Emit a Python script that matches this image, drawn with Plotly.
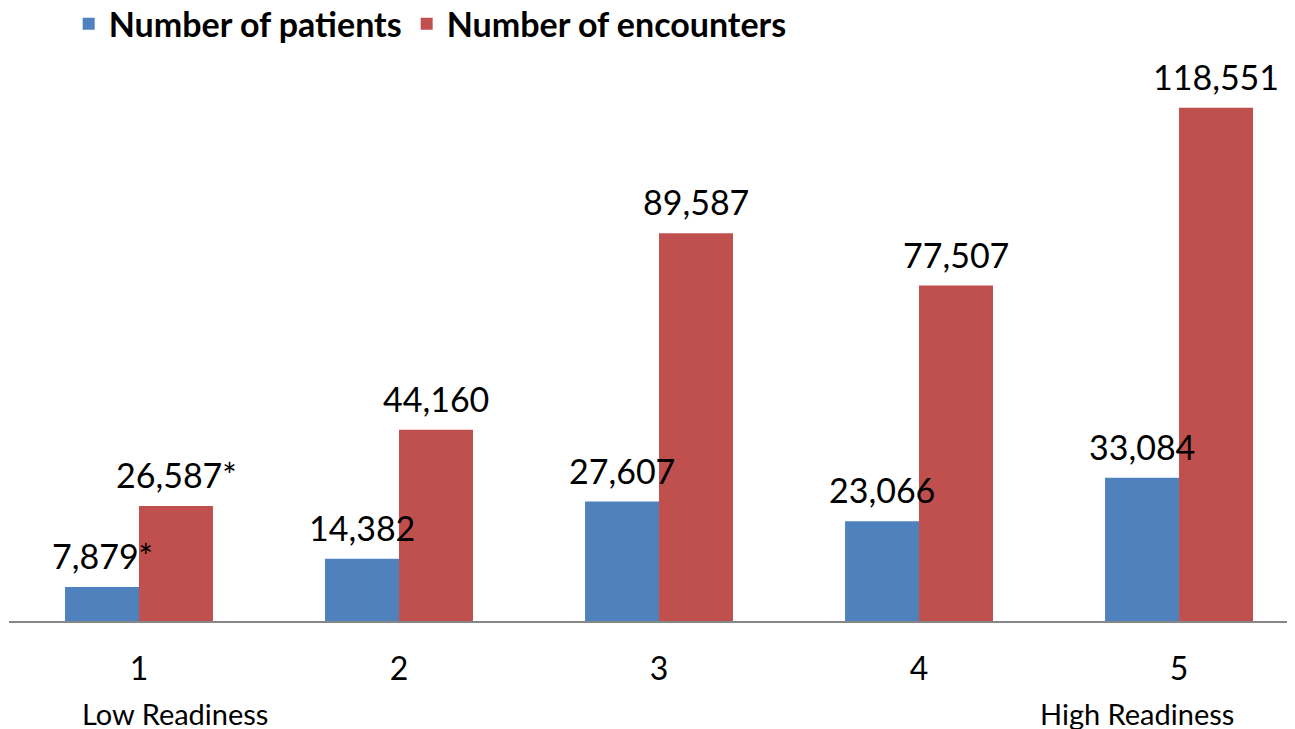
"""Patients and encounters by readiness level - grouped bar chart."""

import plotly.graph_objects as go

categories = ["1", "2", "3", "4", "5"]
patients = [7879, 14382, 27607, 23066, 33084]
encounters = [26587, 44160, 89587, 77507, 118551]
patient_labels = ["7,879*", "14,382", "27,607", "23,066", "33,084"]
encounter_labels = ["26,587*", "44,160", "89,587", "77,507", "118,551"]

BLUE = "#4F81BD"
RED = "#C0504D"
FONT = "Lato, sans-serif"

fig = go.Figure()
fig.add_trace(go.Bar(
    x=categories, y=patients, name="Number of patients",
    marker=dict(color=BLUE, line=dict(width=0)),
    hoverinfo="skip",
))
fig.add_trace(go.Bar(
    x=categories, y=encounters, name="Number of encounters",
    marker=dict(color=RED, line=dict(width=0)),
    hoverinfo="skip",
))

# category axes place annotations by index
annotations = []
for i, (val, lab) in enumerate(zip(patients, patient_labels)):
    annotations.append(dict(
        x=i, y=val, text=lab, showarrow=False, xanchor="center", yanchor="bottom",
        xshift=-37, yshift=9, font=dict(family=FONT, size=34, color="#000000"),
    ))
for i, (val, lab) in enumerate(zip(encounters, encounter_labels)):
    annotations.append(dict(
        x=i, y=val, text=lab, showarrow=False, xanchor="center", yanchor="bottom",
        xshift=37, yshift=9, font=dict(family=FONT, size=34, color="#000000"),
    ))

annotations.append(dict(
    x=0, y=0, text="Low Readiness", showarrow=False,
    xanchor="center", yanchor="middle", xshift=36, yshift=-92,
    font=dict(family=FONT, size=29, color="#000000"),
))
annotations.append(dict(
    x=len(categories) - 1, y=0, text="High Readiness", showarrow=False,
    xanchor="center", yanchor="middle", xshift=-42, yshift=-92,
    font=dict(family=FONT, size=29, color="#000000"),
))

fig.update_layout(
    width=1295, height=729,
    margin=dict(l=1, r=8, t=7, b=116, autoexpand=False),
    paper_bgcolor="#ffffff", plot_bgcolor="#ffffff",
    barmode="group", bargap=0.431, bargroupgap=0,
    showlegend=True,
    legend=dict(
        orientation="h", x=0.0464, y=0.985, xanchor="left", yanchor="middle",
        font=dict(family=FONT, size=34, color="#000000", weight="bold"),
        bgcolor="rgba(0,0,0,0)", itemwidth=30, tracegroupgap=0,
    ),
    xaxis=dict(
        type="category", range=[-0.5, 4.446],
        showline=True, linecolor="#868686", linewidth=1.5,
        showgrid=False, zeroline=False, ticks="",
        tickfont=dict(family=FONT, size=32, color="#000000"),
        ticklabelstandoff=19,
        fixedrange=True,
    ),
    yaxis=dict(
        range=[0, 140000], showgrid=False, zeroline=False,
        showticklabels=False, showline=False, fixedrange=True,
    ),
    annotations=annotations,
)

fig.write_html("out.html")
